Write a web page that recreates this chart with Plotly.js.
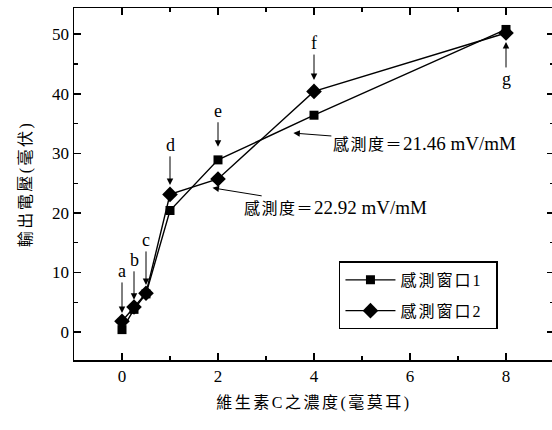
<!DOCTYPE html>
<html><head><meta charset="utf-8">
<script src="https://cdn.plot.ly/plotly-3.0.1.min.js"></script>
<style>html,body{margin:0;padding:0;overflow:hidden;background:#fff;width:552px;height:430px}</style>
</head><body><div id="chart"></div>
<script>
const conc = [0, 0.25, 0.5, 1, 2, 4, 8];
const window1 = [0.4, 3.8, 6.4, 20.4, 28.9, 36.4, 50.8];
const window2 = [1.8, 4.2, 6.5, 23.1, 25.7, 40.4, 50.2];
const seriesNames = ['感測窗口1', '感測窗口2'];
const pointLabels = ['a', 'b', 'c', 'd', 'e', 'f', 'g'];
const sensLabel = '感測度＝';
const sensValues = ['21.46 mV/mM', '22.92 mV/mM'];
const xTitle = '維生素C之濃度(毫莫耳)';
const yTitle = '輸出電壓(毫伏)';

const FONT = 'Liberation Serif, Times New Roman, Noto Sans CJK TC, serif';
const sp = (t, ls) => '<span style="letter-spacing:' + ls + 'px">' + t + '</span>';

const traces = [0, 1].map(k => ({
  x: conc, y: k === 0 ? window1 : window2,
  name: sp(seriesNames[k], 2) + '\u00a0\u00a0',
  legendgroup: 'g' + k,
  mode: 'lines+markers',
  line: {color: '#000', width: 1.4},
  marker: k === 0 ? {symbol: 'square', size: 9, color: '#000'} : {symbol: 'diamond', size: 12, color: '#000'}
}));

const tipY = [3.2, 5.4, 7.9, 24.7, 31.1, 42.3, 48.7];
const offY = [-42, -40, -45, -40, -36, -37, 37];
const annotations = pointLabels.map((t, i) => ({
  x: conc[i], y: tipY[i], text: t, showarrow: true, ax: 0, ay: offY[i],
  arrowhead: 2, arrowsize: 1.3, arrowwidth: 1, arrowcolor: '#000',
  font: {family: FONT, size: 18, color: '#000'}
}));
const sensTip = [[3.57, 33.4, 131, 10], [1.885, 24.2, 123, 20]];
sensTip.forEach((s, i) => annotations.push({
  x: s[0], y: s[1], ax: s[2], ay: s[3], showarrow: true,
  text: sp(sensLabel, 1.5) + '<span style="font-size:19px">' + sensValues[i] + '</span>',
  arrowhead: 2, arrowsize: 1.3, arrowwidth: 1, arrowcolor: '#000',
  font: {family: FONT, size: 16, color: '#000'}
}));

const axisCommon = {
  showgrid: false, zeroline: false, showline: true, linecolor: '#000', linewidth: 1.5,
  mirror: 'ticks', ticks: 'inside', ticklen: 7, tickwidth: 1.5, tickcolor: '#000',
  tickfont: {family: FONT, size: 17, color: '#000'}
};

const layout = {
  width: 560, height: 430,
  margin: {l: 74, r: 6, t: 8, b: 70},
  paper_bgcolor: '#fff', plot_bgcolor: '#fff',
  showlegend: true,
  legend: {x: 0.552, y: 0.28, xanchor: 'left', yanchor: 'top',
    bordercolor: '#000', borderwidth: 1.5, bgcolor: '#fff', itemwidth: 50,
    traceorder: 'grouped', tracegroupgap: 7,
    font: {family: FONT, size: 16, color: '#000'}},
  xaxis: Object.assign({}, axisCommon, {range: [-1, 9], tickvals: [0, 2, 4, 6, 8],
    minor: {ticks: 'inside', ticklen: 4, tickwidth: 1.2, tickcolor: '#000', tickvals: [1, 3, 5, 7]},
    title: {text: sp(xTitle, 2.5), font: {family: FONT, size: 16, color: '#000'}, standoff: 12}}),
  yaxis: Object.assign({}, axisCommon, {range: [-4.7, 54.4], tickvals: [0, 10, 20, 30, 40, 50],
    minor: {ticks: 'inside', ticklen: 4, tickwidth: 1.2, tickcolor: '#000', tickvals: [5, 15, 25, 35, 45]},
    title: {text: sp(yTitle, 2.5), font: {family: FONT, size: 16, color: '#000'}, standoff: 16}}),
  annotations: annotations
};

Plotly.newPlot('chart', traces, layout, {displayModeBar: false, staticPlot: true});
</script></body></html>
